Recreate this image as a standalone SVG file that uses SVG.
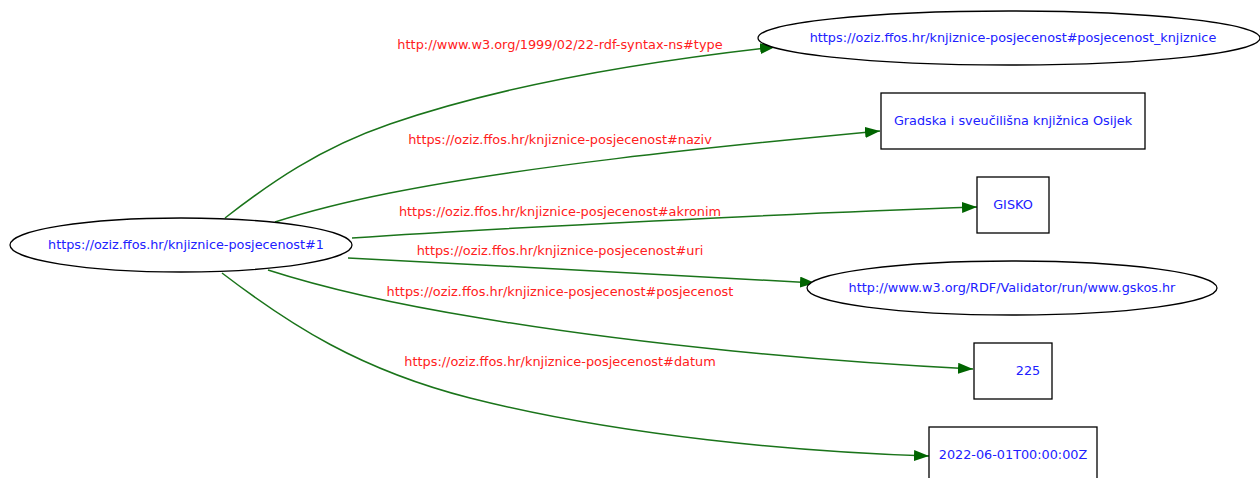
<svg xmlns="http://www.w3.org/2000/svg" width="1260" height="478" viewBox="0 0 1260 478">
<style>
.n{fill:#fff;stroke:#000;stroke-width:1.3}
.nt{font-family:"DejaVu Sans",sans-serif;font-size:12.8px;fill:#2020ff;text-anchor:middle}
.e{fill:none;stroke:#1a741a;stroke-width:1.5}
.et{font-family:"DejaVu Sans",sans-serif;font-size:12.9px;fill:#ff2020;text-anchor:middle}
</style>
<defs>
<marker id="a" viewBox="0 0 15 11" refX="15" refY="5.5" markerWidth="15" markerHeight="11" markerUnits="userSpaceOnUse" orient="auto">
<path d="M0,0 L15,5.5 L0,11 z" fill="#006400"/>
</marker>
</defs>
<rect width="1260" height="478" fill="#fff"/>
<g id="connectors">
<path class="e" marker-end="url(#a)" d="M225,218 C270,183 320,148 390,124 C500,86 640,62 775,47"/>
<text class="et" x="560" y="49">http://www.w3.org/1999/02/22-rdf-syntax-ns#type</text>
<path class="e" marker-end="url(#a)" d="M275,222 C300,214 340,203 390,193 C520,167 700,148 880,131"/>
<text class="et" x="560" y="144">https://oziz.ffos.hr/knjiznice-posjecenost#naziv</text>
<path class="e" marker-end="url(#a)" d="M352,238 C500,228 800,213 977,207"/>
<text class="et" x="560" y="216">https://oziz.ffos.hr/knjiznice-posjecenost#akronim</text>
<path class="e" marker-end="url(#a)" d="M348,258 C500,266 700,276 815,283"/>
<text class="et" x="560" y="255">https://oziz.ffos.hr/knjiznice-posjecenost#uri</text>
<path class="e" marker-end="url(#a)" d="M268,270 C330,290 400,305 480,318 C640,345 830,362 973,369"/>
<text class="et" x="560" y="296">https://oziz.ffos.hr/knjiznice-posjecenost#posjecenost</text>
<path class="e" marker-end="url(#a)" d="M222,273 C290,325 360,370 470,398 C620,436 800,452 929,456"/>
<text class="et" x="560" y="366">https://oziz.ffos.hr/knjiznice-posjecenost#datum</text>
</g>
<g id="n1">
<ellipse class="n" cx="181" cy="245" rx="171" ry="27"/>
<text class="nt" x="186" y="249">https://oziz.ffos.hr/knjiznice-posjecenost#1</text>
</g>
<g id="n2">
<ellipse class="n" cx="1009" cy="38" rx="251" ry="27"/>
<text class="nt" x="1013" y="42">https://oziz.ffos.hr/knjiznice-posjecenost#posjecenost_knjiznice</text>
</g>
<g id="n3">
<rect class="n" x="881" y="93" width="264" height="56"/>
<text class="nt" x="1013" y="125">Gradska i sveučilišna knjižnica Osijek</text>
</g>
<g id="n4">
<rect class="n" x="977" y="177" width="72" height="56"/>
<text class="nt" x="1013" y="209">GISKO</text>
</g>
<g id="n5">
<ellipse class="n" cx="1012" cy="288" rx="205" ry="27"/>
<text class="nt" x="1012" y="292">http://www.w3.org/RDF/Validator/run/www.gskos.hr</text>
</g>
<g id="n6">
<rect class="n" x="974" y="343" width="78" height="56"/>
<text class="nt" x="1028" y="375">225</text>
</g>
<g id="n7">
<rect class="n" x="929" y="427" width="168" height="56"/>
<text class="nt" x="1013" y="459">2022-06-01T00:00:00Z</text>
</g>
</svg>
